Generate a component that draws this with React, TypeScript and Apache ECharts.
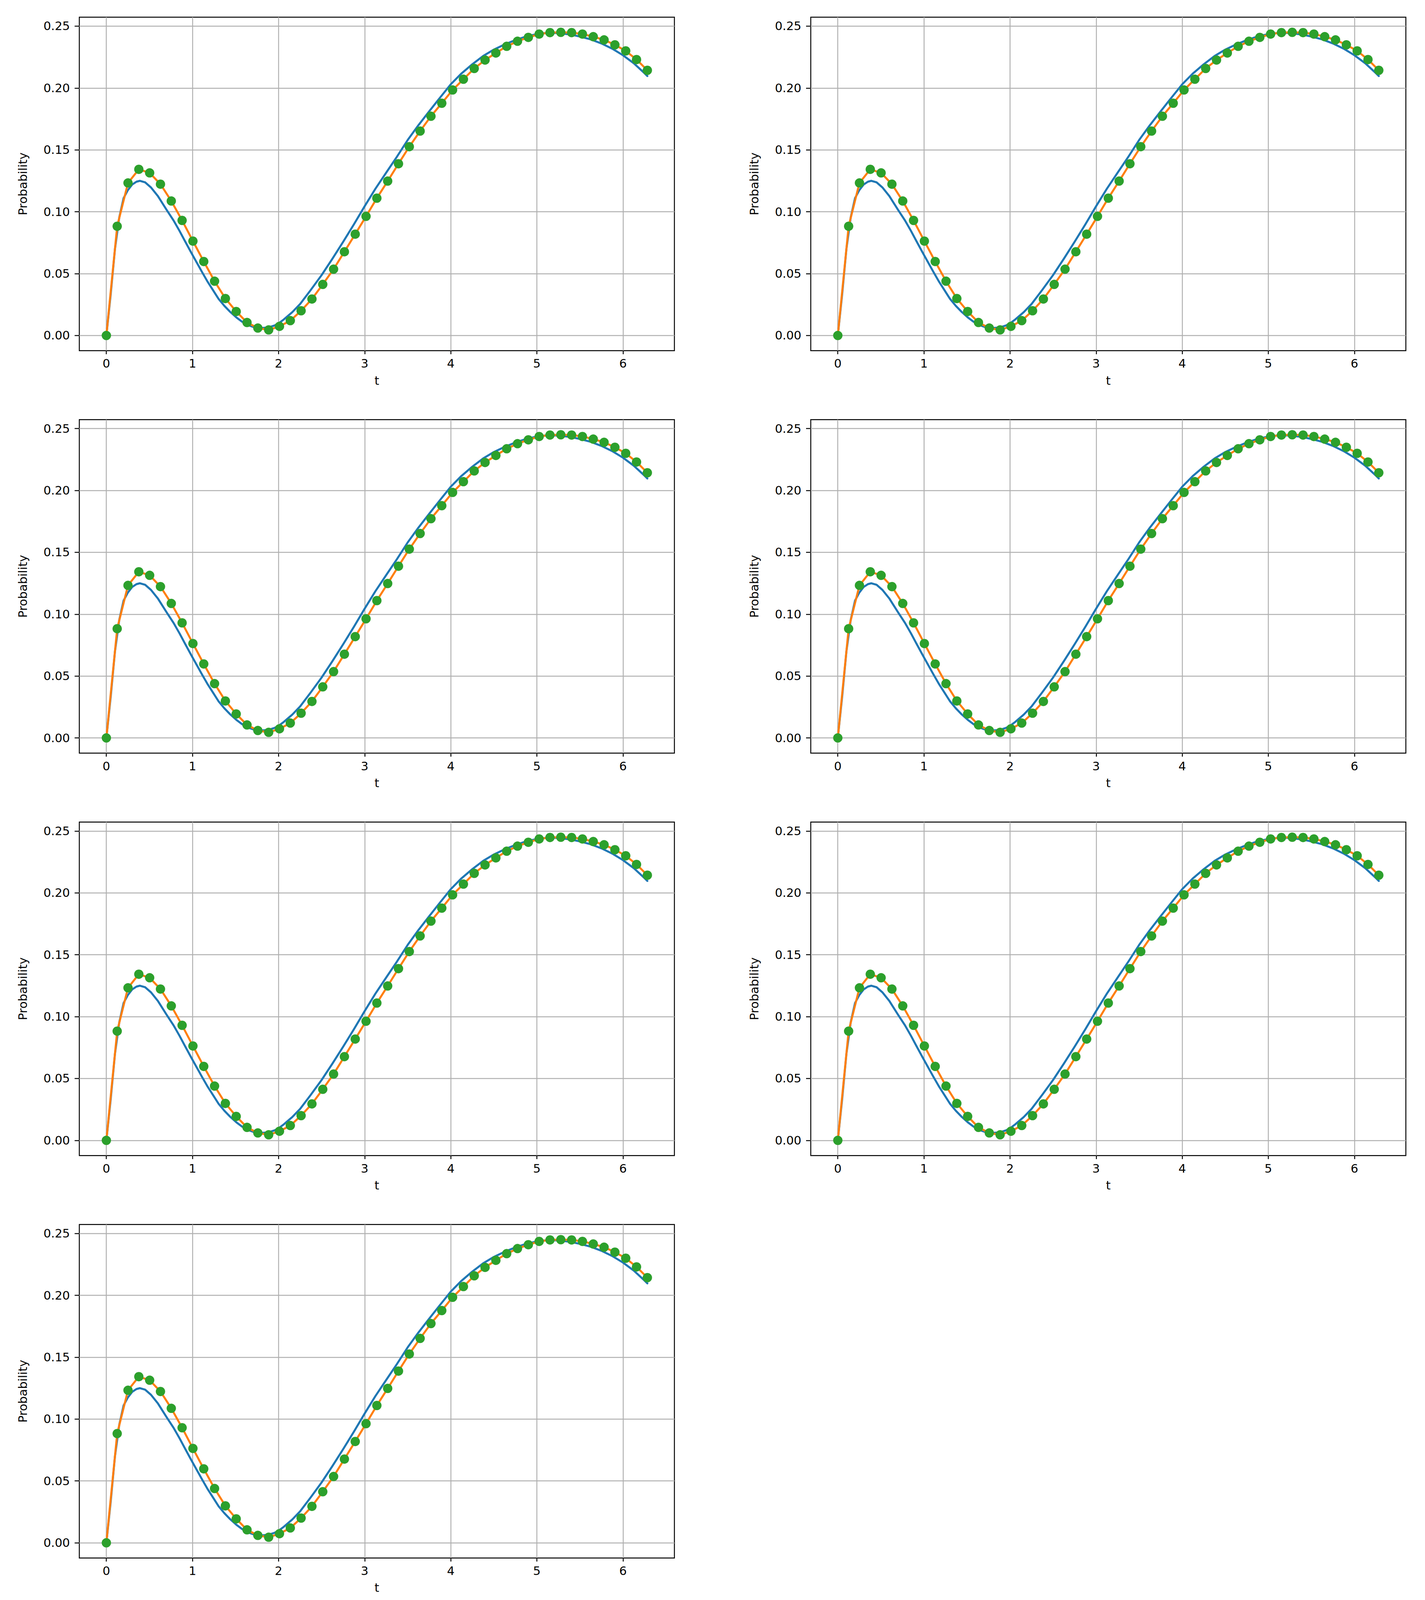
import React, { useEffect, useRef, useState } from "react";
import * as echarts from "echarts";

// Sample times (green markers / orange line)
const TIMES = [
  0.0, 0.1257, 0.2513, 0.377, 0.5027, 0.6283, 0.754, 0.8796, 1.0053, 1.131,
  1.2566, 1.3823, 1.508, 1.6336, 1.7593, 1.885, 2.0106, 2.1363, 2.2619, 2.3876,
  2.5133, 2.6389, 2.7646, 2.8903, 3.0159, 3.1416, 3.2673, 3.3929, 3.5186, 3.6442,
  3.7699, 3.8956, 4.0212, 4.1469, 4.2726, 4.3982, 4.5239, 4.6496, 4.7752, 4.9009,
  5.0265, 5.1522, 5.2779, 5.4035, 5.5292, 5.6549, 5.7805, 5.9062, 6.0319, 6.1575,
  6.2832,
];

// Probability at sample times
const PROBABILITY = [
  0.0, 0.0883, 0.1233, 0.1343, 0.1314, 0.1223, 0.1087, 0.093, 0.0763, 0.0598,
  0.0439, 0.0299, 0.0194, 0.0105, 0.006, 0.0045, 0.0074, 0.012, 0.02, 0.0295,
  0.0413, 0.0536, 0.0677, 0.0819, 0.0963, 0.111, 0.1248, 0.1388, 0.1526, 0.1652,
  0.1772, 0.1877, 0.1984, 0.2071, 0.2158, 0.2226, 0.2283, 0.2337, 0.2378, 0.2409,
  0.2436, 0.2448, 0.245, 0.2448, 0.2436, 0.2415, 0.2389, 0.2349, 0.23, 0.223,
  0.2143,
];

// Smooth (blue) curve
const CURVE_T = [
  0.0, 0.05, 0.1, 0.15, 0.2, 0.25, 0.3, 0.35, 0.39, 0.45, 0.52, 0.6, 0.7, 0.78,
  0.85, 0.913, 0.98, 1.043, 1.11, 1.172, 1.24, 1.301, 1.37, 1.438, 1.51, 1.575,
  1.65, 1.72, 1.8, 1.88, 1.95, 2.0, 2.06, 2.16, 2.25, 2.375, 2.5, 2.625, 2.75,
  2.875, 3.0, 3.125, 3.25, 3.375, 3.5, 3.625, 3.75, 3.875, 4.0, 4.125, 4.25,
  4.375, 4.5, 4.625, 4.75, 4.875, 5.0, 5.125, 5.25, 5.375, 5.5, 5.625, 5.75,
  5.875, 6.0, 6.125, 6.25, 6.2832,
];
const CURVE_P = [
  0.0, 0.033, 0.07, 0.0955, 0.111, 0.1175, 0.122, 0.1243, 0.125, 0.1238, 0.1195,
  0.1125, 0.1015, 0.093, 0.0845, 0.0763, 0.0677, 0.0598, 0.0514, 0.0439, 0.0365,
  0.0298, 0.024, 0.0191, 0.0146, 0.0112, 0.0083, 0.0066, 0.006, 0.0065, 0.008,
  0.0098, 0.0129, 0.0189, 0.0254, 0.0369, 0.0488, 0.062, 0.0757, 0.0898, 0.1045,
  0.1186, 0.1316, 0.1445, 0.158, 0.17, 0.1812, 0.1922, 0.203, 0.2118, 0.2192,
  0.2258, 0.231, 0.2352, 0.2387, 0.2416, 0.2436, 0.2446, 0.2444, 0.2434, 0.2416,
  0.2393, 0.236, 0.2318, 0.2265, 0.22, 0.212, 0.2097,
];

const X_TICKS = [0, 1, 2, 3, 4, 5, 6];
const Y_TICKS = [0, 0.05, 0.1, 0.15, 0.2, 0.25];
const PANELS = [0, 1, 2, 3, 4, 5, 6];

// Reference figure size (the whole figure is fitted into the visible window)
const REF_W = 3647;
const REF_H = 5407;
const FONT = "DejaVu Sans";

function viewportSize() {
  const w = Math.max(1, Math.min(window.innerWidth || REF_W, REF_W));
  const h = Math.max(1, Math.min(window.innerHeight || REF_H, REF_H));
  return { w, h };
}

export default function App() {
  const ref = useRef<HTMLDivElement>(null);
  const [size] = useState(() => {
    document.body.style.margin = "0";
    document.body.style.overflow = "hidden";
    return viewportSize();
  });

  useEffect(() => {
    if (!ref.current) return;
    const W = size.w;
    const H = size.h;
    const sx = W / REF_W;
    const sy = H / REF_H;
    const s = Math.sqrt(sx * sy);
    const fs = 35 * s;

    const chart = echarts.init(ref.current, null, {
      renderer: "svg",
      width: W,
      height: H,
    });

    const xMin = -0.05 * 6.2832;
    const xMax = 6.2832 * 1.05;
    const pMax = Math.max(...PROBABILITY);
    const yMin = -0.05 * pMax;
    const yMax = pMax * 1.05;

    const grids: any[] = [];
    const xAxes: any[] = [];
    const yAxes: any[] = [];
    const series: any[] = [];
    const lw = 5.2 * sx;
    const gw = 2.8 * s;

    PANELS.forEach((_, k) => {
      const col = k % 2;
      const row = Math.floor(k / 2);
      grids.push({
        left: (203 + col * 1872) * sx,
        top: (58 + row * 1360) * sy,
        width: 1523 * sx,
        height: 1127 * sy,
        show: true,
        borderColor: "#000",
        borderWidth: gw,
        backgroundColor: "transparent",
        containLabel: false,
        outerBoundsMode: "none",
      });
      xAxes.push({
        type: "value",
        gridIndex: k,
        min: xMin,
        max: xMax,
        name: "t",
        nameLocation: "middle",
        nameGap: 81 * sy,
        nameTextStyle: { fontFamily: FONT, fontSize: fs, color: "#000" },
        axisLine: { show: false, onZero: false },
        axisTick: {
          show: true,
          inside: false,
          length: 12 * sy,
          customValues: X_TICKS,
          lineStyle: { color: "#000", width: gw },
        },
        axisLabel: {
          show: true,
          customValues: X_TICKS,
          margin: 24 * sy,
          fontFamily: FONT,
          fontSize: fs,
          color: "#000",
          formatter: (v: number) => String(Math.round(v)),
        },
        splitLine: {
          show: true,
          lineStyle: { color: "#b0b0b0", width: gw },
        },
      });
      yAxes.push({
        type: "value",
        gridIndex: k,
        min: yMin,
        max: yMax,
        name: "Probability",
        nameLocation: "middle",
        nameGap: 130 * sx,
        nameTextStyle: { fontFamily: FONT, fontSize: fs, color: "#000" },
        axisLine: { show: false, onZero: false },
        axisTick: {
          show: true,
          inside: false,
          length: 12 * sx,
          customValues: Y_TICKS,
          lineStyle: { color: "#000", width: gw },
        },
        axisLabel: {
          show: true,
          customValues: Y_TICKS,
          margin: 24 * sx,
          fontFamily: FONT,
          fontSize: fs,
          color: "#000",
          formatter: (v: number) => v.toFixed(2),
        },
        splitLine: {
          show: true,
          lineStyle: { color: "#b0b0b0", width: gw },
        },
      });
      series.push({
        type: "line",
        xAxisIndex: k,
        yAxisIndex: k,
        data: CURVE_T.map((t, i) => [t, CURVE_P[i]]),
        showSymbol: false,
        smooth: false,
        lineStyle: { color: "#1f77b4", width: lw, cap: "round", join: "round" },
        silent: true,
        z: 2,
      });
      series.push({
        type: "line",
        xAxisIndex: k,
        yAxisIndex: k,
        data: TIMES.map((t, i) => [t, PROBABILITY[i]]),
        showSymbol: false,
        lineStyle: { color: "#ff7f0e", width: lw, cap: "round", join: "round" },
        silent: true,
        z: 3,
      });
      series.push({
        type: "scatter",
        xAxisIndex: k,
        yAxisIndex: k,
        data: TIMES.map((t, i) => [t, PROBABILITY[i]]),
        symbol: "circle",
        symbolSize: 24 * sx,
        itemStyle: { color: "#2ca02c", opacity: 1 },
        silent: true,
        z: 4,
      });
    });

    chart.setOption({
      animation: false,
      backgroundColor: "#fff",
      textStyle: { fontFamily: FONT },
      grid: grids,
      xAxis: xAxes,
      yAxis: yAxes,
      series,
    });

    return () => {
      chart.dispose();
    };
  }, [size]);

  return (
    <div
      ref={ref}
      style={{
        display: "block",
        width: size.w,
        height: size.h,
        background: "#fff",
      }}
    />
  );
}
